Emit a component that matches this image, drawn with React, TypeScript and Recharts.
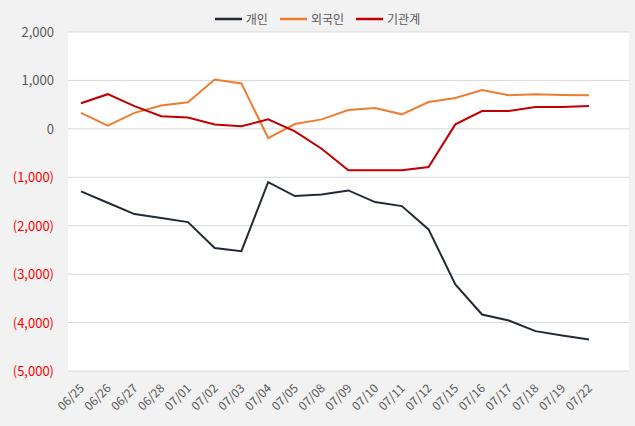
import { LineChart, Line, XAxis, YAxis, CartesianGrid } from 'recharts';

const dates = ['06/25', '06/26', '06/27', '06/28', '07/01', '07/02', '07/03', '07/04', '07/05', '07/08', '07/09', '07/10', '07/11', '07/12', '07/15', '07/16', '07/17', '07/18', '07/19', '07/22'];
const individual = [-1291, -1525, -1760, -1843, -1925, -2462, -2525, -1099, -1388, -1353, -1271, -1512, -1595, -2076, -3213, -3833, -3957, -4177, -4267, -4349];
const foreign = [331, 68, 331, 482, 551, 1020, 938, -190, 100, 196, 389, 430, 300, 554, 637, 802, 692, 713, 698, 692];
const institution = [530, 716, 468, 261, 234, 89, 54, 196, -52, -410, -857, -857, -857, -789, 93, 368, 368, 450, 450, 471];
const yTicks = [2000, 1000, 0, -1000, -2000, -3000, -4000, -5000];

const series = [
  { key: 'individual', name: '개인', color: '#222a35' },
  { key: 'foreign', name: '외국인', color: '#ed7d31' },
  { key: 'institution', name: '기관계', color: '#c00000' },
];

const data = dates.map((d, i) => ({
  date: d,
  individual: individual[i],
  foreign: foreign[i],
  institution: institution[i],
}));

const FONT = '"Noto Sans CJK KR", "Noto Sans", sans-serif';

// 음수는 괄호 + 빨간색
const YTick = ({ y, payload }: any) => {
  const v = payload.value as number;
  const txt = v < 0 ? `(${Math.abs(v).toLocaleString('en-US')})` : v.toLocaleString('en-US');
  return (
    <text x={54} y={y} dy={5} textAnchor="end" fontSize={13} fill={v < 0 ? '#ff0000' : '#595959'} fontFamily={FONT}>
      {txt}
    </text>
  );
};

const XTick = ({ x, y, payload }: any) => (
  <text
    x={x + 4}
    y={y + 10}
    textAnchor="end"
    fontSize={12}
    fill="#595959"
    fontFamily={FONT}
    transform={`rotate(-45, ${x + 4}, ${y + 10})`}
  >
    {payload.value}
  </text>
);

const LegendBox = () => (
  <div
    style={{
      position: 'absolute',
      top: 10,
      left: 0,
      width: 635,
      display: 'flex',
      justifyContent: 'center',
      gap: 12,
      fontFamily: FONT,
      fontSize: 12,
      lineHeight: '18px',
      color: '#595959',
      zIndex: 2,
    }}
  >
    {series.map((s) => (
      <div key={s.key} style={{ display: 'flex', alignItems: 'center' }}>
        <svg width={27} height={4} style={{ marginRight: 4 }}>
          <line x1={0} y1={2} x2={27} y2={2} stroke={s.color} strokeWidth={2.5} />
        </svg>
        <span>{s.name}</span>
      </div>
    ))}
  </div>
);

export default function App() {
  return (
    <div style={{ position: 'fixed', top: 0, left: 0, width: 635, height: 426, background: '#f2f2f2' }}>
      <LegendBox />
      <LineChart width={635} height={426} data={data} margin={{ top: 32, right: 6, left: 0, bottom: 0 }}>
        <CartesianGrid vertical={false} stroke="#d9d9d9" fill="#ffffff" />
        <XAxis
          dataKey="date"
          axisLine={false}
          tickLine={false}
          interval={0}
          height={55}
          padding={{ left: 13, right: 40 }}
          tick={<XTick />}
        />
        <YAxis
          domain={[-5000, 2000]}
          ticks={yTicks}
          axisLine={false}
          tickLine={false}
          width={68}
          tick={<YTick />}
        />
        {series.map((s) => (
          <Line
            key={s.key}
            type="linear"
            dataKey={s.key}
            name={s.name}
            stroke={s.color}
            strokeWidth={2}
            dot={false}
            isAnimationActive={false}
          />
        ))}
      </LineChart>
    </div>
  );
}
